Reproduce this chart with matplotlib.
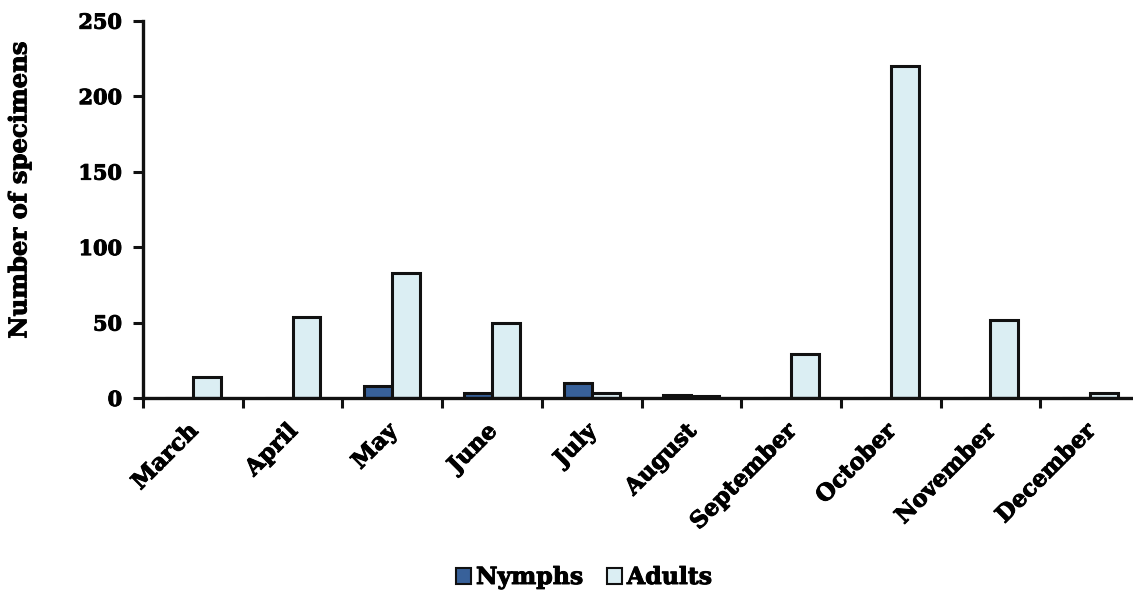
import matplotlib
matplotlib.use("Agg")
import matplotlib.pyplot as plt
import matplotlib.patheffects as pe
import matplotlib.transforms as mtrans
import numpy as np
from matplotlib.patches import Patch

months = ["March", "April", "May", "June", "July", "August",
          "September", "October", "November", "December"]
nymphs = [0, 0, 8, 3, 10, 2, 0, 0, 0, 0]
adults = [14, 54, 83, 50, 3, 1, 29, 220, 52, 3]
yticks = [0, 50, 100, 150, 200, 250]

NYM_COLOR = "#38619A"
ADU_COLOR = "#DBEEF3"
FONT = ["DejaVu Serif"]
FS_NUM = 15
FS_TXT = 16.5
heavy = [pe.withStroke(linewidth=0.7, foreground="black")]

plt.rcParams['font.family'] = FONT
plt.rcParams['font.weight'] = 'bold'

fig = plt.figure(figsize=(11.33, 5.92), dpi=100)
ax = fig.add_axes([143 / 1133, 1 - 398 / 592, 997 / 1133, (398 - 20.7) / 592])

x = np.arange(len(months))
w = 0.28
ax.bar(x - w / 2, nymphs, width=w, color=NYM_COLOR, edgecolor="#111111",
       linewidth=2.2, label="Nymphs", zorder=3)
ax.bar(x + w / 2, adults, width=w, color=ADU_COLOR, edgecolor="#111111",
       linewidth=2.2, label="Adults", zorder=3)

ax.set_xlim(-0.5, len(months) - 0.5)
ax.set_ylim(0, 250)
ax.set_yticks(yticks)
ax.set_yticklabels([str(v) for v in yticks], fontsize=FS_NUM, fontweight='bold')

ax.set_xticks(x)
ax.set_xticklabels(months, rotation=45, ha='right', va='top',
                   rotation_mode='anchor', fontsize=FS_TXT, fontweight='bold')
ax.tick_params(axis='x', which='major', length=0, pad=16)
ax.set_xticks(np.arange(-0.5, len(months), 1.0), minor=True)
ax.tick_params(axis='x', which='minor', length=7, width=2.2, color="#111111",
               direction='out')
ax.tick_params(axis='y', length=7, width=2.2, color="#111111", direction='out',
               pad=8)
shift = mtrans.ScaledTranslation(-6 / 100, 0, fig.dpi_scale_trans)
for t in ax.get_xticklabels():
    t.set_transform(t.get_transform() + shift)
for t in ax.get_xticklabels() + ax.get_yticklabels():
    t.set_path_effects(heavy)

for s in ["top", "right"]:
    ax.spines[s].set_visible(False)
for s in ["left", "bottom"]:
    ax.spines[s].set_linewidth(2.4)
    ax.spines[s].set_color("#111111")
ax.spines["bottom"].set_zorder(4)

yl = ax.set_ylabel("Number of specimens", fontsize=17.5, fontweight='bold')
yl.set_path_effects(heavy)
ax.yaxis.set_label_coords(-0.112, 0.55)

handles = [Patch(facecolor=NYM_COLOR, edgecolor="#111111", linewidth=1.5, label="Nymphs"),
           Patch(facecolor=ADU_COLOR, edgecolor="#111111", linewidth=1.5, label="Adults")]
leg = fig.legend(handles=handles, loc='center', bbox_to_anchor=(584 / 1133, 1 - 577 / 592),
                 ncol=2, frameon=False, prop={'size': 17, 'weight': 'bold', 'family': FONT},
                 handlelength=0.65, handleheight=0.65, handletextpad=0.2, columnspacing=1.0)
for t in leg.get_texts():
    t.set_path_effects(heavy)

fig.savefig("out.png", dpi=100)
